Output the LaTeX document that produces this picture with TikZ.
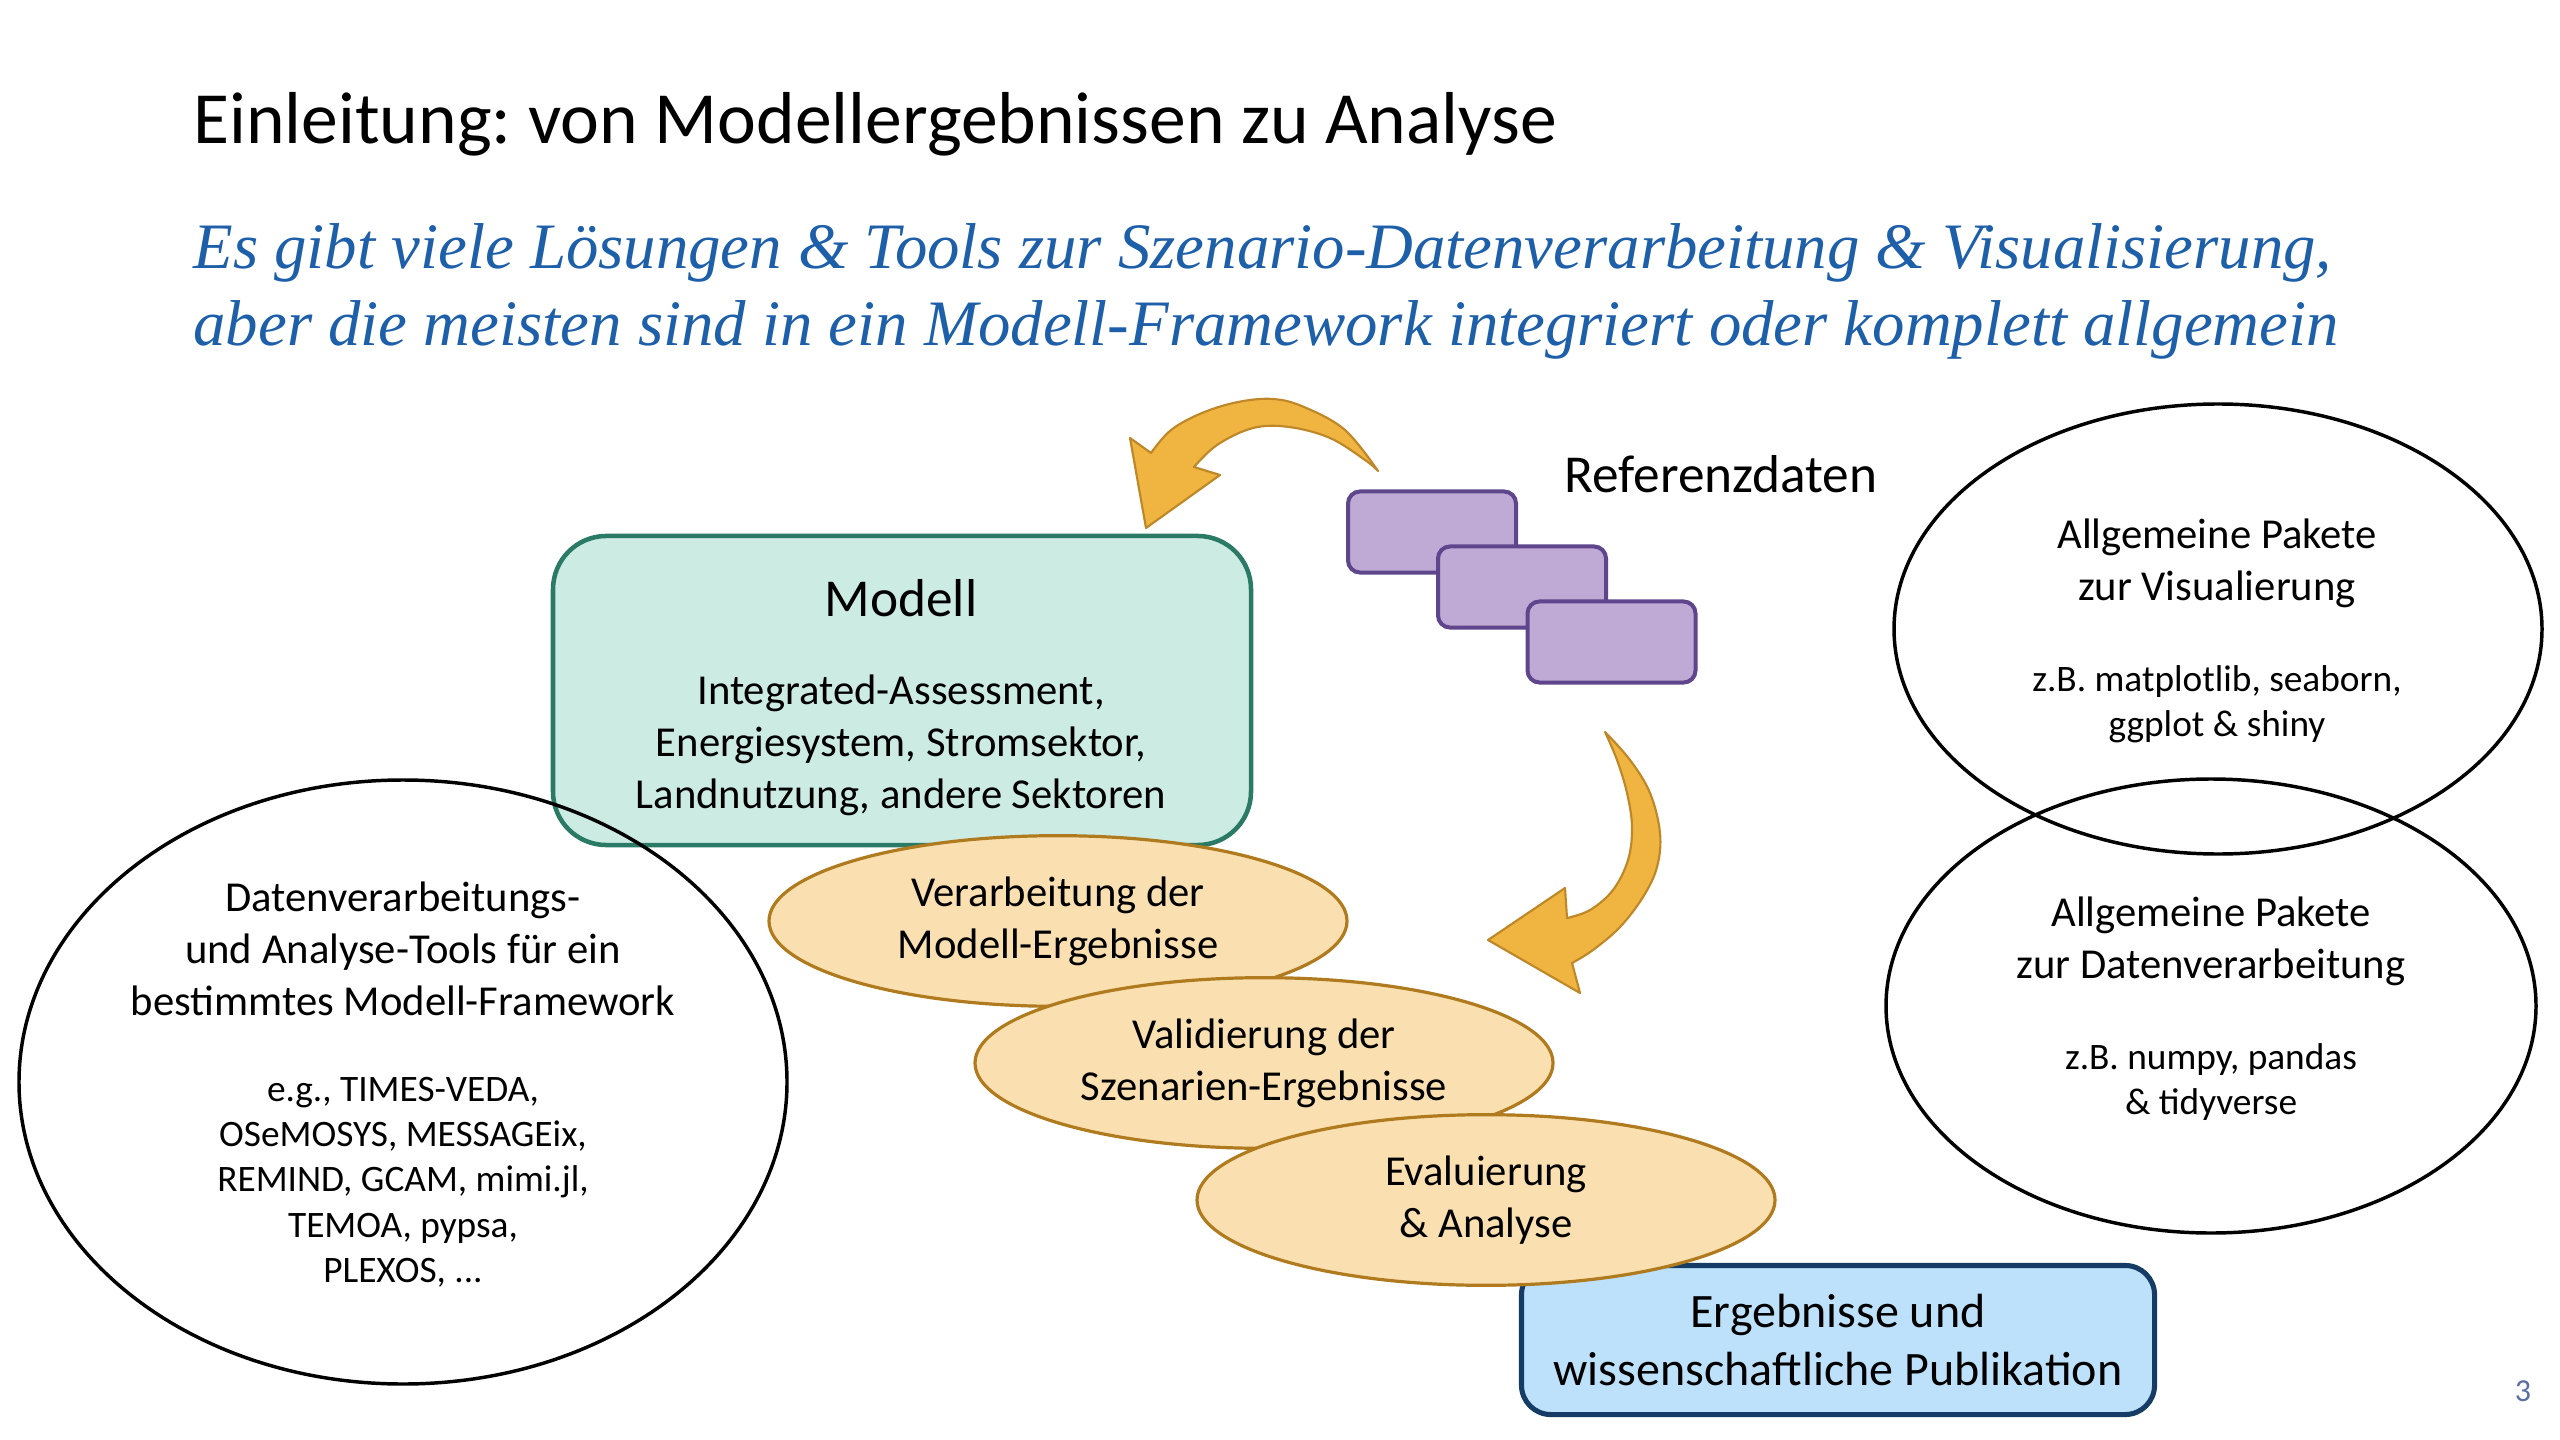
\documentclass[tikz,border=0pt]{standalone}
\usepackage{fontspec}
\setmainfont{Carlito}
\newfontfamily\subfont{Liberation Serif}
\usetikzlibrary{shapes.geometric}
\frenchspacing
\definecolor{tealfill}{RGB}{204,235,227}
\definecolor{tealline}{RGB}{42,122,102}
\definecolor{orfill}{RGB}{250,223,176}
\definecolor{orline}{RGB}{176,122,30}
\definecolor{bluefill}{RGB}{189,225,250}
\definecolor{blueline}{RGB}{21,60,100}
\definecolor{purfill}{RGB}{190,170,212}
\definecolor{purline}{RGB}{95,70,140}
\definecolor{arrfill}{RGB}{240,180,65}
\definecolor{arrline}{RGB}{190,135,40}
\definecolor{subblue}{RGB}{30,95,170}
\definecolor{pagenum}{RGB}{90,110,160}
\begin{document}
\begin{tikzpicture}[x=0.375pt,y=-0.375pt,
  modelbox/.style={draw=tealline, fill=tealfill, line width=1.7pt, rounded corners=20pt, minimum width=261.75pt, minimum height=115.9pt, inner sep=0pt},
  resbox/.style={draw=blueline, fill=bluefill, line width=1.9pt, rounded corners=11pt, minimum width=237.4pt, minimum height=55.9pt, inner sep=0pt, align=center, font=\fontsize{18}{22}\selectfont},
  procell/.style={ellipse, draw=orline, fill=orfill, line width=1.2pt, minimum width=216.75pt, minimum height=64pt, inner sep=0pt, align=center, font=\fontsize{16}{19.5}\selectfont},
  blackell/.style={ellipse, draw=black, line width=1.3pt, inner sep=0pt},
  refbox/.style={draw=purline, fill=purfill, line width=1.5pt, rounded corners=4.5pt, minimum width=63pt, minimum height=30.4pt, inner sep=0pt},
  curvarrow/.style={fill=arrfill, draw=arrline, line width=0.8pt, line join=round},
  bigtxt/.style={align=center, font=\fontsize{16}{19.5}\selectfont, inner sep=0pt},
  smalltxt/.style={align=center, font=\fontsize{14}{17}\selectfont, inner sep=0pt}
]
\useasboundingbox[fill=white] (0,0) rectangle (2560,1440);

% title and subtitle
\node[anchor=base west, inner sep=0pt, font=\fontsize{27.6}{33}\selectfont] (title) at (193,144) {Einleitung: von Modellergebnissen zu Analyse};
\node[anchor=base west, inner sep=0pt, align=left, text=subblue, font=\subfont\itshape\fontsize{24.3}{28.9}\selectfont] (subtitle) at (193,346)
  {Es gibt viele Lösungen \& Tools zur Szenario-Datenverarbeitung \& Visualisierung,\\aber die meisten sind in ein Modell-Framework integriert oder komplett allgemein};

% model box
\node[modelbox] (model) at (902,690.5) {};
\node[inner sep=0pt, font=\fontsize{20}{24}\selectfont] (modeltitle) at (901,598) {Modell};
\node[bigtxt] (modeltext) at (901,745) {Integrated-Assessment,\\Energiesystem, Stromsektor,\\Landnutzung, andere Sektoren};

% left ellipse
\node[blackell, minimum width=288pt, minimum height=226.5pt] (leftell) at (403,1082) {};
\node[bigtxt] (lefttxt1) at (403,949) {Datenverarbeitungs-\\und Analyse-Tools für ein\\bestimmtes Modell-Framework};
\node[smalltxt] (lefttxt2) at (403,1182) {e.g., TIMES-VEDA,\\OSeMOSYS, MESSAGEix,\\REMIND, GCAM, mimi.jl,\\TEMOA, pypsa,\\PLEXOS, ...};

% processing ellipses and result box
\node[procell] (verarb) at (1058,921) {Verarbeitung der\\Modell-Ergebnisse};
\node[procell] (valid) at (1264,1063) {Validierung der\\Szenarien-Ergebnisse};
\node[resbox] (result) at (1838,1340) {Ergebnisse und\\wissenschaftliche Publikation};
\node[procell] (eval) at (1486,1200) {Evaluierung\\\& Analyse};

% right ellipses
\node[blackell, minimum width=243pt, minimum height=168.75pt] (visell) at (2218,629) {};
\node[blackell, minimum width=243.75pt, minimum height=170.25pt] (dataell) at (2211,1006) {};
\node[bigtxt] (vistxt1) at (2217,563) {Allgemeine Pakete\\zur Visualierung};
\node[smalltxt] (vistxt2) at (2217,704) {z.B. matplotlib, seaborn,\\ggplot \& shiny};
\node[bigtxt] (datatxt1) at (2211,941) {Allgemeine Pakete\\zur Datenverarbeitung};
\node[smalltxt] (datatxt2) at (2211,1082) {z.B. numpy, pandas\\\& tidyverse};

% reference data boxes
\node[refbox] (ref1) at (1432,532) {};
\node[refbox] (ref2) at (1522,587) {};
\node[refbox] (ref3) at (1611.5,642) {};
\node[inner sep=0pt, font=\fontsize{20}{24}\selectfont] (reflabel) at (1721,474) {Referenzdaten};

% curved arrows
\filldraw[curvarrow] plot[smooth, tension=0.6] coordinates {(1378,471) (1345,430) (1304,407) (1273,399) (1238,402) (1202,413) (1171,430) (1151,453)}
  -- (1130,438) -- (1146,528) -- (1220,475) -- (1194,467)
  -- plot[smooth, tension=0.6] coordinates {(1194,467) (1217,445) (1253,428) (1289,427) (1330,438) (1365,460) (1378,471)} -- cycle;
\filldraw[curvarrow] plot[smooth, tension=0.6] coordinates {(1605,732) (1630,760) (1650,793) (1660,833) (1657,867) (1643,897) (1620,927) (1593,950) (1572,963)}
  -- (1580,993) -- (1488,940) -- (1565,888) -- (1567,918)
  -- plot[smooth, tension=0.6] coordinates {(1567,918) (1590,910) (1613,890) (1628,860) (1632,827) (1627,793) (1617,760) (1605,732)} -- cycle;

% page number
\node[inner sep=0pt, text=pagenum, font=\fontsize{12}{14}\selectfont] (page) at (2523,1391) {3};
\end{tikzpicture}
\end{document}
